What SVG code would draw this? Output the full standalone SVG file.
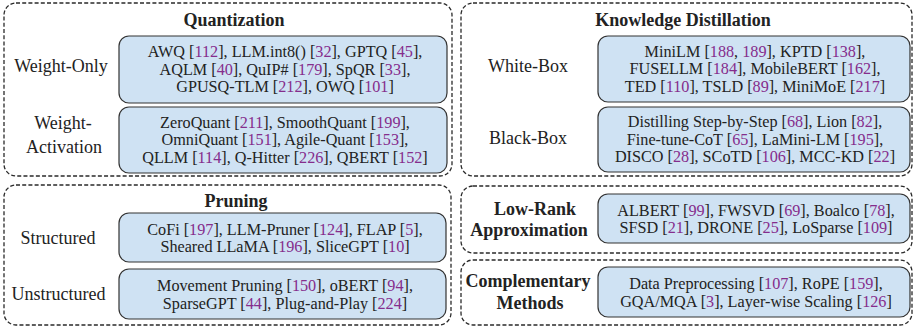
<svg xmlns="http://www.w3.org/2000/svg" width="915" height="327" viewBox="0 0 915 327">
  <style>
    .group { fill: none; stroke: #2a2a2a; stroke-width: 1.3; stroke-dasharray: 4 2.2; }
    .leaf { fill: #cfe2f3; stroke: #333333; stroke-width: 1.2; }
    text { font-family: "Liberation Serif", "Times New Roman", serif; fill: #222222; text-anchor: middle; }
    .title { font-size: 18px; font-weight: bold; }
    .label { font-size: 18px; }
    .blabel { font-size: 18px; font-weight: bold; }
    .body { font-size: 16.2px; }
    .ref { fill: #852d8c; }
  </style>

  <!-- Quantization -->
  <g id="quantization">
    <rect class="group" x="4" y="3" width="448" height="173" rx="12"/>
    <text class="title" x="234" y="26">Quantization</text>
    <g id="weight-only">
      <text class="label" x="61" y="72">Weight-Only</text>
      <rect class="leaf" x="119" y="36" width="328" height="67" rx="10"/>
      <text class="body" x="285" y="57">AWQ [<tspan class="ref">112</tspan>], LLM.int8() [<tspan class="ref">32</tspan>], GPTQ [<tspan class="ref">45</tspan>],</text>
      <text class="body" x="285" y="74.5">AQLM [<tspan class="ref">40</tspan>], QuIP# [<tspan class="ref">179</tspan>], SpQR [<tspan class="ref">33</tspan>],</text>
      <text class="body" x="285" y="92">GPUSQ-TLM [<tspan class="ref">212</tspan>], OWQ [<tspan class="ref">101</tspan>]</text>
    </g>
    <g id="weight-activation">
      <text class="label" x="63" y="129">Weight-</text>
      <text class="label" x="64" y="153">Activation</text>
      <rect class="leaf" x="119" y="107" width="328" height="66" rx="10"/>
      <text class="body" x="285" y="127.5">ZeroQuant [<tspan class="ref">211</tspan>], SmoothQuant [<tspan class="ref">199</tspan>],</text>
      <text class="body" x="285" y="145">OmniQuant [<tspan class="ref">151</tspan>], Agile-Quant [<tspan class="ref">153</tspan>],</text>
      <text class="body" x="285" y="162.5">QLLM [<tspan class="ref">114</tspan>], Q-Hitter [<tspan class="ref">226</tspan>], QBERT [<tspan class="ref">152</tspan>]</text>
    </g>
  </g>

  <!-- Pruning -->
  <g id="pruning">
    <rect class="group" x="4" y="185" width="447" height="140" rx="12"/>
    <text class="title" x="236" y="207">Pruning</text>
    <g id="structured">
      <text class="label" x="58" y="244">Structured</text>
      <rect class="leaf" x="119" y="213" width="327" height="49" rx="10"/>
      <text class="body" x="285" y="234.5">CoFi [<tspan class="ref">197</tspan>], LLM-Pruner [<tspan class="ref">124</tspan>], FLAP [<tspan class="ref">5</tspan>],</text>
      <text class="body" x="285" y="252">Sheared LLaMA [<tspan class="ref">196</tspan>], SliceGPT [<tspan class="ref">10</tspan>]</text>
    </g>
    <g id="unstructured">
      <text class="label" x="58.5" y="300">Unstructured</text>
      <rect class="leaf" x="119" y="269" width="327" height="50" rx="10"/>
      <text class="body" x="285" y="291">Movement Pruning [<tspan class="ref">150</tspan>], oBERT [<tspan class="ref">94</tspan>],</text>
      <text class="body" x="285" y="308.5">SparseGPT [<tspan class="ref">44</tspan>], Plug-and-Play [<tspan class="ref">224</tspan>]</text>
    </g>
  </g>

  <!-- Knowledge Distillation -->
  <g id="knowledge-distillation">
    <rect class="group" x="461" y="3" width="451" height="173" rx="12"/>
    <text class="title" x="683" y="26">Knowledge Distillation</text>
    <g id="white-box">
      <text class="label" x="528" y="72">White-Box</text>
      <rect class="leaf" x="598" y="36" width="312" height="66" rx="10"/>
      <text class="body" x="755" y="56.5">MiniLM [<tspan class="ref">188</tspan>, <tspan class="ref">189</tspan>], KPTD [<tspan class="ref">138</tspan>],</text>
      <text class="body" x="755" y="74">FUSELLM [<tspan class="ref">184</tspan>], MobileBERT [<tspan class="ref">162</tspan>],</text>
      <text class="body" x="755" y="91.5">TED [<tspan class="ref">110</tspan>], TSLD [<tspan class="ref">89</tspan>], MiniMoE [<tspan class="ref">217</tspan>]</text>
    </g>
    <g id="black-box">
      <text class="label" x="528" y="144">Black-Box</text>
      <rect class="leaf" x="598" y="107" width="312" height="65" rx="10"/>
      <text class="body" x="755" y="127">Distilling Step-by-Step [<tspan class="ref">68</tspan>], Lion [<tspan class="ref">82</tspan>],</text>
      <text class="body" x="755" y="144.5">Fine-tune-CoT [<tspan class="ref">65</tspan>], LaMini-LM [<tspan class="ref">195</tspan>],</text>
      <text class="body" x="755" y="162">DISCO [<tspan class="ref">28</tspan>], SCoTD [<tspan class="ref">106</tspan>], MCC-KD [<tspan class="ref">22</tspan>]</text>
    </g>
  </g>

  <!-- Low-Rank Approximation -->
  <g id="low-rank-approximation">
    <rect class="group" x="461" y="186" width="451" height="67" rx="12"/>
    <text class="blabel" x="535" y="215">Low-Rank</text>
    <text class="blabel" x="529" y="236">Approximation</text>
    <rect class="leaf" x="598" y="194" width="312" height="49" rx="10"/>
    <text class="body" x="756" y="215.5">ALBERT [<tspan class="ref">99</tspan>], FWSVD [<tspan class="ref">69</tspan>], Boalco [<tspan class="ref">78</tspan>],</text>
    <text class="body" x="756" y="233">SFSD [<tspan class="ref">21</tspan>], DRONE [<tspan class="ref">25</tspan>], LoSparse [<tspan class="ref">109</tspan>]</text>
  </g>

  <!-- Complementary Methods -->
  <g id="complementary-methods">
    <rect class="group" x="461" y="260" width="451" height="65" rx="12"/>
    <text class="blabel" x="528" y="287">Complementary</text>
    <text class="blabel" x="530" y="309">Methods</text>
    <rect class="leaf" x="598" y="267" width="312" height="50" rx="10"/>
    <text class="body" x="756" y="289">Data Preprocessing [<tspan class="ref">107</tspan>], RoPE [<tspan class="ref">159</tspan>],</text>
    <text class="body" x="756" y="306.5">GQA/MQA [<tspan class="ref">3</tspan>], Layer-wise Scaling [<tspan class="ref">126</tspan>]</text>
  </g>

  <!-- no connectors in this layout -->
  <g id="connectors"/>
</svg>
